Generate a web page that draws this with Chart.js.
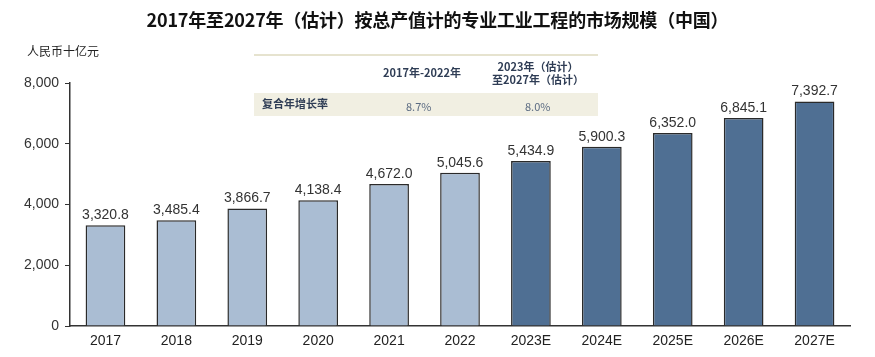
<!DOCTYPE html>
<html><head><meta charset="utf-8">
<script src="https://cdn.jsdelivr.net/npm/chart.js@4"></script>
<style>
html,body{margin:0;padding:0;background:#fff;}
#wrap{position:relative;width:875px;height:357px;overflow:hidden;}
canvas{position:absolute;left:0;top:0;}
.t{position:absolute;white-space:nowrap;font-family:"Noto Sans CJK SC","Liberation Sans",sans-serif;}
#title{left:0;width:875px;top:6px;text-align:center;font-size:18px;font-weight:bold;color:#111;letter-spacing:-0.2px;}
#unit{left:27px;top:42px;font-size:12px;color:#222;}
#tline{left:254px;top:54px;width:344px;height:2px;background:#e6e3cf;}
#band{left:254px;top:93px;width:344px;height:23px;background:#f1efe2;}
.h{font-size:11px;font-weight:bold;color:#2f3d55;text-align:center;line-height:13px;}
.v{font-size:11px;color:#5b6b82;}
</style></head>
<body><div id="wrap">
<canvas id="c" width="875" height="357"></canvas>
<div class="t" id="title">2017年至2027年（估计）按总产值计的专业工业工程的市场规模（中国）</div>
<div class="t" id="unit">人民币十亿元</div>
<div class="t" id="tline"></div>
<div class="t" id="band"></div>
<div class="t h" style="left:381px;top:66px;width:82px;">2017年-2022年</div>
<div class="t h" style="left:488px;top:60px;width:100px;">2023年（估计）<br>至2027年（估计）</div>
<div class="t h" style="left:262px;top:97px;font-weight:bold;">复合年增长率</div>
<div class="t v" style="left:406px;top:98px;">8.7%</div>
<div class="t v" style="left:525px;top:98px;">8.0%</div>
</div>
<script>
const categories = ["2017","2018","2019","2020","2021","2022","2023E","2024E","2025E","2026E","2027E"];
const marketSize = [3320.8,3485.4,3866.7,4138.4,4672.0,5045.6,5434.9,5900.3,6352.0,6845.1,7392.7];
const isEstimate = [false,false,false,false,false,false,true,true,true,true,true];
const yTicks = [0,2000,4000,6000,8000];

const fmt = v => v.toLocaleString('en-US',{minimumFractionDigits:1,maximumFractionDigits:1});

const valueLabels = {
  id:'valueLabels',
  afterDatasetsDraw(chart){
    const ctx = chart.ctx;
    const meta = chart.getDatasetMeta(0);
    ctx.save();
    ctx.font = '14px "Liberation Sans", Arial, sans-serif';
    ctx.fillStyle = '#333';
    ctx.textAlign = 'center';
    ctx.textBaseline = 'bottom';
    meta.data.forEach((bar,i)=>{
      ctx.fillText(fmt(marketSize[i]), bar.x, bar.y - 3);
    });
    ctx.restore();
  }
};

new Chart(document.getElementById('c'),{
  type:'bar',
  data:{
    labels:categories,
    datasets:[{
      data:marketSize,
      backgroundColor:isEstimate.map(e=>e?'#4f6f93':'#aabdd3'),
      borderColor:'#2a2a2a',
      borderWidth:1.5,
      categoryPercentage:1,
      barPercentage:0.56
    }]
  },
  options:{
    responsive:false,
    animation:false,
    devicePixelRatio:1,
    layout:{padding:{top:83,right:25,bottom:0,left:0}},
    plugins:{legend:{display:false},title:{display:false},tooltip:{enabled:false}},
    scales:{
      x:{
        grid:{display:false,drawTicks:false},
        border:{display:true,color:'#333',width:1.5},
        ticks:{color:'#222',padding:7,font:{family:'"Liberation Sans", Arial, sans-serif',size:14}},
        afterFit(s){ s.height = 31; }
      },
      y:{
        min:0,max:8000,
        afterBuildTicks(s){ s.ticks = yTicks.map(v=>({value:v})); },
        grid:{drawOnChartArea:false,drawTicks:true,tickLength:5,color:'#333',lineWidth:1},
        border:{display:true,color:'#333',width:1.5},
        ticks:{color:'#333',padding:6,font:{family:'"Liberation Sans", Arial, sans-serif',size:14},
          callback:v=>v.toLocaleString('en-US')},
        afterFit(s){ s.width = 70; }
      }
    }
  },
  plugins:[valueLabels]
});
</script>
</body></html>
